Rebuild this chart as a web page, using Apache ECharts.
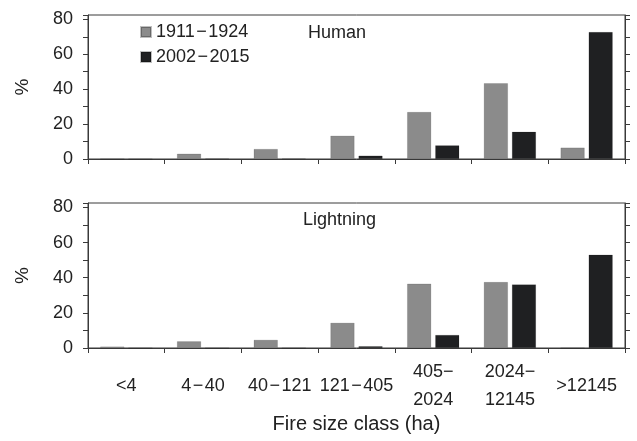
<!DOCTYPE html>
<html>
<head>
<meta charset="utf-8">
<script src="https://cdn.jsdelivr.net/npm/echarts@6/dist/echarts.min.js"></script>
<style>
  html, body { margin: 0; padding: 0; background: #fff; }
  #chart { width: 637px; height: 441px; }
</style>
</head>
<body>
<div id="chart"></div>
<script>
const categories = ['<4', '4\u200a\u2212\u200a40', '40\u200a\u2212\u200a121', '121\u200a\u2212\u200a405', '405\u2212\n2024', '2024\u2212\n12145', '>12145'];
const periods = ['1911\u200a\u2212\u200a1924', '2002\u200a\u2212\u200a2015'];
const human1911 = [0, 3, 5.7, 13.3, 26.9, 43.4, 6.5];
const human2002 = [0, 0.3, 0.3, 1.9, 7.8, 15.6, 72.7];
const lightning1911 = [0.8, 3.8, 4.6, 14.3, 36.6, 37.5, 0];
const lightning2002 = [0, 0, 0, 1, 7.4, 36.2, 53.1];
const yTicks = [0, 20, 40, 60, 80];

const font = 'Liberation Sans, Arial, sans-serif';
const axisColor = '#3a3a3a';
const textColor = '#222';
const grey = '#8b8b8b';
const black = '#1f2022';

const chart = echarts.init(document.getElementById('chart'));

const yLeft = gridIndex => ({
  type: 'value',
  gridIndex,
  min: 0,
  max: 82.5,
  interval: 10,
  name: '%',
  nameLocation: 'middle',
  nameGap: 56,
  nameTextStyle: { fontFamily: font, fontSize: 19, color: textColor },
  axisLine: { show: true, lineStyle: { color: axisColor } },
  axisTick: { show: true, length: 5, lineStyle: { color: axisColor } },
  axisLabel: {
    fontFamily: font,
    fontSize: 18,
    color: textColor,
    margin: 15,
    formatter: v => (yTicks.includes(v) ? String(v) : '')
  },
  splitLine: { show: false }
});

const yRight = gridIndex => ({
  type: 'value',
  gridIndex,
  position: 'right',
  min: 0,
  max: 82.5,
  interval: 10,
  axisLine: { show: true, lineStyle: { color: axisColor } },
  axisTick: { show: true, length: 5, lineStyle: { color: axisColor } },
  axisLabel: { show: false },
  splitLine: { show: false }
});

const xAxis = (gridIndex, showLabels) => ({
  type: 'category',
  gridIndex,
  data: categories,
  axisLine: { show: true, lineStyle: { color: axisColor } },
  axisTick: { show: true, length: 5, lineStyle: { color: axisColor } },
  axisLabel: {
    show: showLabels,
    interval: 0,
    fontFamily: font,
    fontSize: 18,
    color: textColor,
    lineHeight: 28,
    verticalAlign: 'middle',
    margin: 38
  },
  name: showLabels ? 'Fire size class (ha)' : '',
  nameLocation: 'middle',
  nameGap: 65,
  nameTextStyle: { fontFamily: font, fontSize: 20, color: textColor }
});

const barSeries = (name, data, color, xi, yi) => ({
  name,
  type: 'bar',
  xAxisIndex: xi,
  yAxisIndex: yi,
  data,
  barWidth: 24,
  barGap: '17%',
  itemStyle: { color, borderColor: 'rgba(0,0,0,0.25)', borderWidth: 0.5 },
  emphasis: { disabled: true }
});

chart.setOption({
  animation: false,
  textStyle: { fontFamily: font },
  legend: {
    data: periods,
    orient: 'vertical',
    left: 135,
    top: 18,
    icon: 'rect',
    itemWidth: 10,
    itemHeight: 10,
    itemGap: 7,
    textStyle: { fontFamily: font, fontSize: 18, color: textColor, lineHeight: 18 }
  },
  title: [
    { text: 'Human', left: 303, top: 19, textStyle: { fontFamily: font, fontSize: 18, fontWeight: 'normal', color: textColor } },
    { text: 'Lightning', left: 298, top: 206, textStyle: { fontFamily: font, fontSize: 18, fontWeight: 'normal', color: textColor } }
  ],
  grid: [
    { left: 88, right: 12, top: 15, height: 144, show: true, borderColor: axisColor, borderWidth: 1 },
    { left: 88, right: 12, top: 203, height: 145, show: true, borderColor: axisColor, borderWidth: 1 }
  ],
  xAxis: [xAxis(0, false), xAxis(1, true)],
  yAxis: [yLeft(0), yRight(0), yLeft(1), yRight(1)],
  series: [
    barSeries(periods[0], human1911, grey, 0, 0),
    barSeries(periods[1], human2002, black, 0, 0),
    barSeries(periods[0], lightning1911, grey, 1, 2),
    barSeries(periods[1], lightning2002, black, 1, 2)
  ]
});
</script>
</body>
</html>
